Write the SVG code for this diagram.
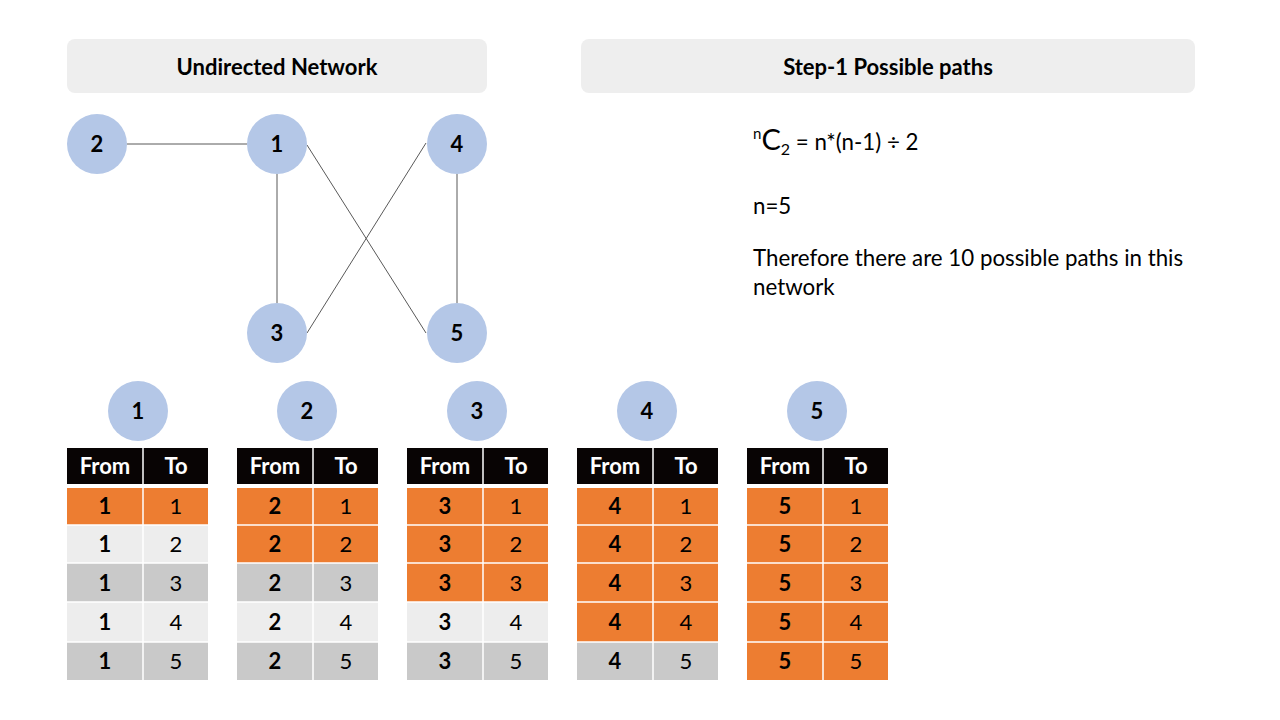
<svg xmlns="http://www.w3.org/2000/svg" width="1280" height="720" viewBox="0 0 1280 720">
<style>
  text { font-family: Lato, "Open Sans", "Liberation Sans", sans-serif; fill: #000; }
  .title { font-size: 22px; font-weight: bold; text-anchor: middle; }
  .band { fill: #EEEEEE; }
  .node { fill: #B4C7E7; }
  .nlabel { font-size: 22px; font-weight: bold; text-anchor: middle; }
  .edge { stroke: #595959; stroke-width: 1; fill: none; }
  .hd { fill: #080404; }
  .hdt { fill: #FFFFFF; font-size: 22px; font-weight: bold; text-anchor: middle; }
  .or { fill: #ED7D31; }
  .lt { fill: #EDEDED; }
  .gy { fill: #C9C9C9; }
  .cb { font-size: 22px; font-weight: bold; text-anchor: middle; }
  .cr { font-size: 22px; text-anchor: middle; }
  .sep { stroke: #FFFFFF; stroke-width: 1.5; }
  .body { font-size: 22.3px; }
</style>

<g id="header-left">
  <rect class="band" x="67" y="39" width="420" height="54" rx="8"/>
  <text class="title" x="277" y="75">Undirected Network</text>
</g>
<g id="header-right">
  <rect class="band" x="581" y="39" width="614" height="54" rx="8"/>
  <text class="title" x="888" y="75">Step-1 Possible paths</text>
</g>

<g id="connectors">
  <line class="edge" x1="127" y1="144" x2="247" y2="144"/>
  <line class="edge" x1="277" y1="174" x2="277" y2="303"/>
  <line class="edge" x1="307" y1="145" x2="426" y2="333"/>
  <line class="edge" x1="426" y1="143" x2="307" y2="333"/>
  <line class="edge" x1="457" y1="174" x2="457" y2="303"/>
</g>

<g id="node-2"><circle class="node" cx="97" cy="144" r="30"/><text class="nlabel" x="97" y="152">2</text></g>
<g id="node-1"><circle class="node" cx="277" cy="144" r="30"/><text class="nlabel" x="277" y="152">1</text></g>
<g id="node-4"><circle class="node" cx="457" cy="144" r="30"/><text class="nlabel" x="457" y="152">4</text></g>
<g id="node-3"><circle class="node" cx="277" cy="333" r="30"/><text class="nlabel" x="277" y="341">3</text></g>
<g id="node-5"><circle class="node" cx="457" cy="333" r="30"/><text class="nlabel" x="457" y="341">5</text></g>

<g id="formula">
  <text class="body" x="753" y="150"><tspan font-size="15" dy="-11">n</tspan><tspan font-size="29" dy="11">C</tspan><tspan font-size="16" dy="5">2</tspan><tspan dy="-5"> = n*(n-1) ÷ 2</tspan></text>
  <text class="body" x="753" y="214">n=5</text>
  <text class="body" x="753" y="266">Therefore there are 10 possible paths in this</text>
  <text class="body" x="753" y="295">network</text>
</g>

<!-- Table 1 -->
<g id="table-1">
  <circle class="node" cx="138" cy="411" r="30"/><text class="nlabel" x="138" y="419">1</text>
  <rect class="hd" x="67" y="448" width="141" height="36"/>
  <text class="hdt" x="105" y="474">From</text><text class="hdt" x="176" y="474">To</text>
  <rect class="or" x="67" y="488" width="141" height="37"/>
  <rect class="lt" x="67" y="525" width="141" height="38"/>
  <rect class="gy" x="67" y="563" width="141" height="39"/>
  <rect class="lt" x="67" y="602" width="141" height="40"/>
  <rect class="gy" x="67" y="642" width="141" height="38"/>
  <line class="sep" x1="143" y1="448" x2="143" y2="680"/>
  <line class="sep" x1="67" y1="525" x2="208" y2="525"/>
  <line class="sep" x1="67" y1="563" x2="208" y2="563"/>
  <line class="sep" x1="67" y1="602" x2="208" y2="602"/>
  <line class="sep" x1="67" y1="642" x2="208" y2="642"/>
  <text class="cb" x="105" y="514">1</text><text class="cr" x="176" y="514">1</text>
  <text class="cb" x="105" y="552">1</text><text class="cr" x="176" y="552">2</text>
  <text class="cb" x="105" y="591">1</text><text class="cr" x="176" y="591">3</text>
  <text class="cb" x="105" y="630">1</text><text class="cr" x="176" y="630">4</text>
  <text class="cb" x="105" y="669">1</text><text class="cr" x="176" y="669">5</text>
</g>

<!-- Table 2 -->
<g id="table-2">
  <circle class="node" cx="307" cy="411" r="30"/><text class="nlabel" x="307" y="419">2</text>
  <rect class="hd" x="237" y="448" width="141" height="36"/>
  <text class="hdt" x="275" y="474">From</text><text class="hdt" x="346" y="474">To</text>
  <rect class="or" x="237" y="488" width="141" height="37"/>
  <rect class="or" x="237" y="525" width="141" height="38"/>
  <rect class="gy" x="237" y="563" width="141" height="39"/>
  <rect class="lt" x="237" y="602" width="141" height="40"/>
  <rect class="gy" x="237" y="642" width="141" height="38"/>
  <line class="sep" x1="313" y1="448" x2="313" y2="680"/>
  <line class="sep" x1="237" y1="525" x2="378" y2="525"/>
  <line class="sep" x1="237" y1="563" x2="378" y2="563"/>
  <line class="sep" x1="237" y1="602" x2="378" y2="602"/>
  <line class="sep" x1="237" y1="642" x2="378" y2="642"/>
  <text class="cb" x="275" y="514">2</text><text class="cr" x="346" y="514">1</text>
  <text class="cb" x="275" y="552">2</text><text class="cr" x="346" y="552">2</text>
  <text class="cb" x="275" y="591">2</text><text class="cr" x="346" y="591">3</text>
  <text class="cb" x="275" y="630">2</text><text class="cr" x="346" y="630">4</text>
  <text class="cb" x="275" y="669">2</text><text class="cr" x="346" y="669">5</text>
</g>

<!-- Table 3 -->
<g id="table-3">
  <circle class="node" cx="477" cy="411" r="30"/><text class="nlabel" x="477" y="419">3</text>
  <rect class="hd" x="407" y="448" width="141" height="36"/>
  <text class="hdt" x="445" y="474">From</text><text class="hdt" x="516" y="474">To</text>
  <rect class="or" x="407" y="488" width="141" height="37"/>
  <rect class="or" x="407" y="525" width="141" height="38"/>
  <rect class="or" x="407" y="563" width="141" height="39"/>
  <rect class="lt" x="407" y="602" width="141" height="40"/>
  <rect class="gy" x="407" y="642" width="141" height="38"/>
  <line class="sep" x1="483" y1="448" x2="483" y2="680"/>
  <line class="sep" x1="407" y1="525" x2="548" y2="525"/>
  <line class="sep" x1="407" y1="563" x2="548" y2="563"/>
  <line class="sep" x1="407" y1="602" x2="548" y2="602"/>
  <line class="sep" x1="407" y1="642" x2="548" y2="642"/>
  <text class="cb" x="445" y="514">3</text><text class="cr" x="516" y="514">1</text>
  <text class="cb" x="445" y="552">3</text><text class="cr" x="516" y="552">2</text>
  <text class="cb" x="445" y="591">3</text><text class="cr" x="516" y="591">3</text>
  <text class="cb" x="445" y="630">3</text><text class="cr" x="516" y="630">4</text>
  <text class="cb" x="445" y="669">3</text><text class="cr" x="516" y="669">5</text>
</g>

<!-- Table 4 -->
<g id="table-4">
  <circle class="node" cx="647" cy="411" r="30"/><text class="nlabel" x="647" y="419">4</text>
  <rect class="hd" x="577" y="448" width="141" height="36"/>
  <text class="hdt" x="615" y="474">From</text><text class="hdt" x="686" y="474">To</text>
  <rect class="or" x="577" y="488" width="141" height="37"/>
  <rect class="or" x="577" y="525" width="141" height="38"/>
  <rect class="or" x="577" y="563" width="141" height="39"/>
  <rect class="or" x="577" y="602" width="141" height="40"/>
  <rect class="gy" x="577" y="642" width="141" height="38"/>
  <line class="sep" x1="653" y1="448" x2="653" y2="680"/>
  <line class="sep" x1="577" y1="525" x2="718" y2="525"/>
  <line class="sep" x1="577" y1="563" x2="718" y2="563"/>
  <line class="sep" x1="577" y1="602" x2="718" y2="602"/>
  <line class="sep" x1="577" y1="642" x2="718" y2="642"/>
  <text class="cb" x="615" y="514">4</text><text class="cr" x="686" y="514">1</text>
  <text class="cb" x="615" y="552">4</text><text class="cr" x="686" y="552">2</text>
  <text class="cb" x="615" y="591">4</text><text class="cr" x="686" y="591">3</text>
  <text class="cb" x="615" y="630">4</text><text class="cr" x="686" y="630">4</text>
  <text class="cb" x="615" y="669">4</text><text class="cr" x="686" y="669">5</text>
</g>

<!-- Table 5 -->
<g id="table-5">
  <circle class="node" cx="817" cy="411" r="30"/><text class="nlabel" x="817" y="419">5</text>
  <rect class="hd" x="747" y="448" width="141" height="36"/>
  <text class="hdt" x="785" y="474">From</text><text class="hdt" x="856" y="474">To</text>
  <rect class="or" x="747" y="488" width="141" height="37"/>
  <rect class="or" x="747" y="525" width="141" height="38"/>
  <rect class="or" x="747" y="563" width="141" height="39"/>
  <rect class="or" x="747" y="602" width="141" height="40"/>
  <rect class="or" x="747" y="642" width="141" height="38"/>
  <line class="sep" x1="823" y1="448" x2="823" y2="680"/>
  <line class="sep" x1="747" y1="525" x2="888" y2="525"/>
  <line class="sep" x1="747" y1="563" x2="888" y2="563"/>
  <line class="sep" x1="747" y1="602" x2="888" y2="602"/>
  <line class="sep" x1="747" y1="642" x2="888" y2="642"/>
  <text class="cb" x="785" y="514">5</text><text class="cr" x="856" y="514">1</text>
  <text class="cb" x="785" y="552">5</text><text class="cr" x="856" y="552">2</text>
  <text class="cb" x="785" y="591">5</text><text class="cr" x="856" y="591">3</text>
  <text class="cb" x="785" y="630">5</text><text class="cr" x="856" y="630">4</text>
  <text class="cb" x="785" y="669">5</text><text class="cr" x="856" y="669">5</text>
</g>
</svg>
